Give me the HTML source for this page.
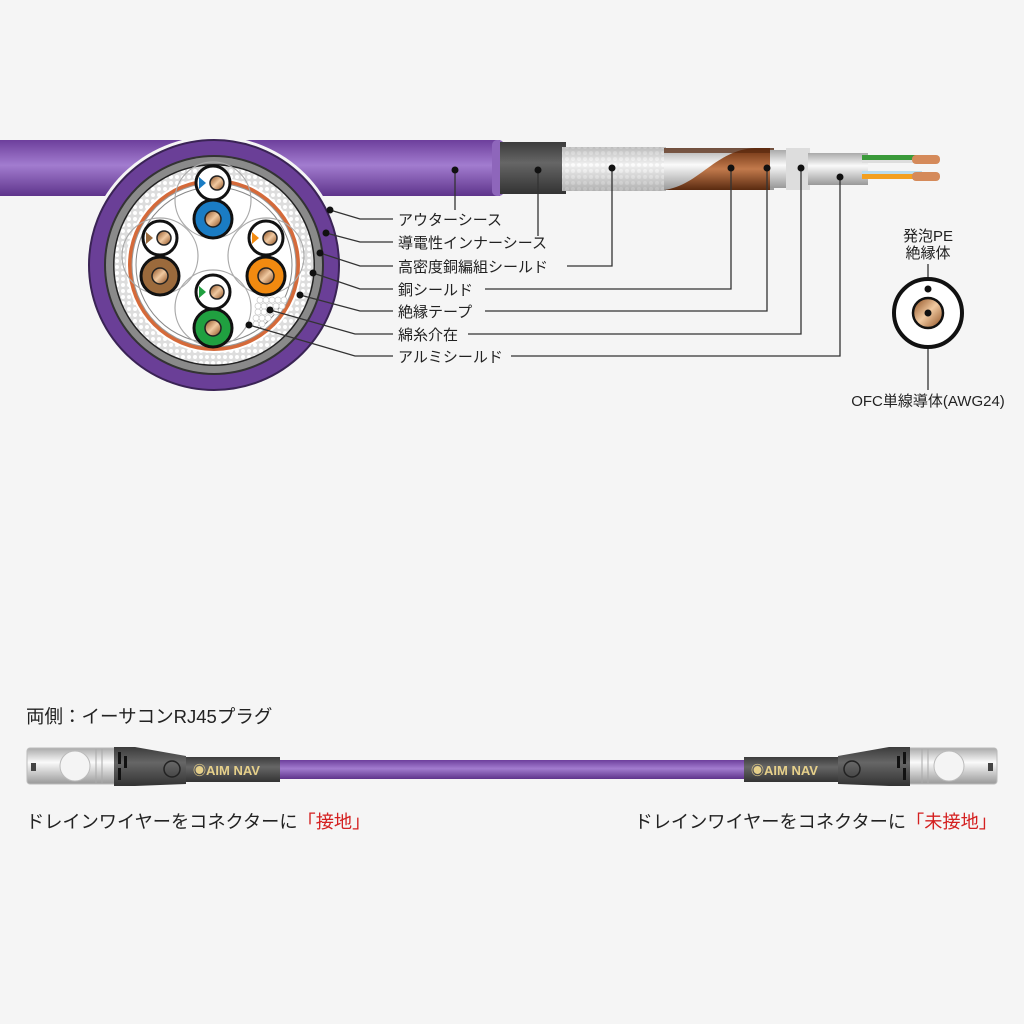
<!DOCTYPE html>
<html><head><meta charset="utf-8"><style>
html,body{margin:0;padding:0;background:#f5f5f5}
svg{display:block}
text{font-family:"Liberation Sans","Noto Sans CJK JP",sans-serif;fill:#222}
</style></head><body>
<svg width="1024" height="1024" viewBox="0 0 1024 1024" xmlns="http://www.w3.org/2000/svg">
<defs>
<linearGradient id="pur" x1="0" y1="0" x2="0" y2="1">
<stop offset="0" stop-color="#6d3f9c"/><stop offset="0.45" stop-color="#a27ccf"/><stop offset="1" stop-color="#5e348b"/></linearGradient>
<linearGradient id="dk" x1="0" y1="0" x2="0" y2="1">
<stop offset="0" stop-color="#3c3c3c"/><stop offset="0.4" stop-color="#666"/><stop offset="1" stop-color="#333"/></linearGradient>
<linearGradient id="sil" x1="0" y1="0" x2="0" y2="1">
<stop offset="0" stop-color="#aaa"/><stop offset="0.4" stop-color="#fafafa"/><stop offset="1" stop-color="#999"/></linearGradient>
<linearGradient id="cu" x1="0" y1="0" x2="1" y2="1">
<stop offset="0" stop-color="#8a4a1c"/><stop offset="0.5" stop-color="#f0c9a0"/><stop offset="1" stop-color="#8a4a1c"/></linearGradient>
<linearGradient id="cu2" x1="0" y1="0" x2="0" y2="1">
<stop offset="0" stop-color="#6b3010"/><stop offset="0.5" stop-color="#c27a4c"/><stop offset="1" stop-color="#5a2a10"/></linearGradient>
<pattern id="braid" width="6" height="6" patternUnits="userSpaceOnUse">
<rect width="6" height="6" fill="#ddd"/><circle cx="3" cy="3" r="2" fill="#fff"/></pattern>
</defs>

<rect x="0" y="140" width="500" height="56" fill="url(#pur)"/>
<rect x="492" y="140" width="12" height="56" rx="5" fill="#8e66bb"/>
<rect x="500" y="142" width="66" height="52" fill="url(#dk)"/>
<rect x="562" y="147" width="104" height="44" fill="url(#sil)"/>
<rect x="562" y="147" width="104" height="44" fill="url(#braid)" opacity="0.35"/>
<rect x="664" y="148" width="110" height="42" fill="url(#sil)"/>
<path d="M664 190 C700 185 715 150 755 148 L770 148 L770 190 Z" fill="url(#cu2)"/>
<rect x="664" y="148" width="110" height="5" fill="#5a2a10" opacity="0.7"/>
<rect x="770" y="150" width="36" height="38" fill="url(#sil)"/>
<rect x="786" y="148" width="24" height="42" fill="#ddd"/>
<rect x="808" y="153" width="60" height="32" fill="url(#sil)"/>
<rect x="862" y="155" width="60" height="5" fill="#3a9a3a"/>
<rect x="862" y="160" width="60" height="3" fill="#ddd"/>
<rect x="862" y="171" width="60" height="3" fill="#bde"/>
<rect x="862" y="174" width="60" height="5" fill="#f3a020"/>
<rect x="912" y="155" width="28" height="9" rx="4" fill="#d58a5a"/>
<rect x="912" y="172" width="28" height="9" rx="4" fill="#d58a5a"/>

<g>
<circle cx="214" cy="265" r="129" fill="#f5f5f5"/>
<circle cx="214" cy="265" r="125" fill="#6a3f97" stroke="#3a2355" stroke-width="2"/>
<circle cx="214" cy="265" r="110" fill="#333"/>
<circle cx="214" cy="265" r="108" fill="#8a8a8a"/>
<circle cx="214" cy="265" r="101" fill="#222"/>
<circle cx="214" cy="265" r="99.5" fill="url(#braid)"/>
<circle cx="214" cy="265" r="88" fill="#fff"/>
<circle cx="214" cy="265" r="86" fill="#d56a3a"/>
<circle cx="214" cy="265" r="82" fill="#fff" stroke="#999" stroke-width="1"/>
<circle cx="214" cy="265" r="78" fill="#fff" stroke="#888" stroke-width="1"/>
<g fill="none" stroke="#aaa" stroke-width="1.2">
<circle cx="213" cy="200" r="38"/><circle cx="160" cy="256" r="38"/><circle cx="266" cy="256" r="38"/><circle cx="213" cy="308" r="38"/>
</g>
<g fill="#fff" stroke="#ccc" stroke-width="0.8">
<circle cx="260" cy="300" r="3"/><circle cx="266" cy="300" r="3"/><circle cx="272" cy="300" r="3"/><circle cx="278" cy="300" r="3"/><circle cx="284" cy="300" r="3"/>
<circle cx="258" cy="306" r="3"/><circle cx="264" cy="306" r="3"/><circle cx="270" cy="306" r="3"/><circle cx="276" cy="306" r="3"/><circle cx="282" cy="306" r="3"/>
<circle cx="258" cy="312" r="3"/><circle cx="264" cy="312" r="3"/><circle cx="270" cy="312" r="3"/><circle cx="276" cy="312" r="3"/>
<circle cx="256" cy="318" r="3"/><circle cx="262" cy="318" r="3"/><circle cx="268" cy="318" r="3"/><circle cx="256" cy="324" r="3"/><circle cx="262" cy="324" r="3"/>
</g>
<g stroke="#111" stroke-width="3">
<circle cx="213" cy="183" r="17" fill="#fff"/><circle cx="213" cy="219" r="19" fill="#1a7cc4"/>
<circle cx="160" cy="238" r="17" fill="#fff"/><circle cx="160" cy="276" r="19" fill="#9b6a3c"/>
<circle cx="266" cy="238" r="17" fill="#fff"/><circle cx="266" cy="276" r="19" fill="#f28a10"/>
<circle cx="213" cy="292" r="17" fill="#fff"/><circle cx="213" cy="328" r="19" fill="#20a040"/>
</g>
<path d="M199 177 L206 183 L199 189 Z" fill="#1a7cc4"/>
<path d="M146 232 L153 238 L146 244 Z" fill="#9b6a3c"/>
<path d="M252 232 L259 238 L252 244 Z" fill="#f28a10"/>
<path d="M199 286 L206 292 L199 298 Z" fill="#20a040"/>
<g fill="url(#cu)" stroke="#222" stroke-width="1.5">
<circle cx="217" cy="183" r="7"/><circle cx="213" cy="219" r="8"/>
<circle cx="164" cy="238" r="7"/><circle cx="160" cy="276" r="8"/>
<circle cx="270" cy="238" r="7"/><circle cx="266" cy="276" r="8"/>
<circle cx="217" cy="292" r="7"/><circle cx="213" cy="328" r="8"/>
</g>
</g>

<g stroke="#333" stroke-width="1.3" fill="none">
<polyline points="330,210 360,219 393,219"/>
<polyline points="326,233 360,242 393,242"/>
<polyline points="320,253 360,266 393,266"/>
<polyline points="313,273 360,289 393,289"/>
<polyline points="300,295 360,311 393,311"/>
<polyline points="270,310 355,334 393,334"/>
<polyline points="249,325 355,356 393,356"/>
<polyline points="455,170 455,210"/>
<polyline points="538,170 538,236"/>
<polyline points="612,168 612,266 567,266"/>
<polyline points="731,168 731,289 485,289"/>
<polyline points="767,168 767,311 485,311"/>
<polyline points="801,168 801,334 468,334"/>
<polyline points="840,177 840,356 511,356"/>
<line x1="928" y1="264" x2="928" y2="313"/>
<line x1="928" y1="313" x2="928" y2="390"/>
</g>
<g fill="#111">
<circle cx="330" cy="210" r="3.5"/><circle cx="326" cy="233" r="3.5"/><circle cx="320" cy="253" r="3.5"/><circle cx="313" cy="273" r="3.5"/><circle cx="300" cy="295" r="3.5"/><circle cx="270" cy="310" r="3.5"/><circle cx="249" cy="325" r="3.5"/>
<circle cx="455" cy="170" r="3.5"/><circle cx="538" cy="170" r="3.5"/><circle cx="612" cy="168" r="3.5"/><circle cx="731" cy="168" r="3.5"/><circle cx="767" cy="168" r="3.5"/><circle cx="801" cy="168" r="3.5"/><circle cx="840" cy="177" r="3.5"/>
</g>
<g font-size="15">
<text x="398" y="225">アウターシース</text>
<text x="398" y="248">導電性インナーシース</text>
<text x="398" y="272">高密度銅編組シールド</text>
<text x="398" y="295">銅シールド</text>
<text x="398" y="317">絶縁テープ</text>
<text x="398" y="340">綿糸介在</text>
<text x="398" y="362">アルミシールド</text>
</g>

<circle cx="928" cy="313" r="34" fill="#fff" stroke="#111" stroke-width="4"/>
<circle cx="928" cy="313" r="15" fill="url(#cu)" stroke="#111" stroke-width="2.5"/>
<circle cx="928" cy="289" r="3.5" fill="#111"/><circle cx="928" cy="313" r="3.5" fill="#111"/>
<text x="928" y="241" font-size="15" text-anchor="middle">発泡PE</text>
<text x="928" y="258" font-size="15" text-anchor="middle">絶縁体</text>
<text x="928" y="406" font-size="15" text-anchor="middle">OFC単線導体(AWG24)</text>

<text x="26" y="723" font-size="18.5">両側：イーサコンRJ45プラグ</text>
<rect x="270" y="760" width="480" height="19" fill="url(#pur)"/>
<g>
<rect x="27" y="748" width="95" height="36" rx="3" fill="url(#sil)" stroke="#bbb"/>
<rect x="31" y="763" width="5" height="8" fill="#444"/>
<ellipse cx="75" cy="766" rx="15" ry="15" fill="#f4f4f4" stroke="#bbb"/>
<line x1="96" y1="749" x2="96" y2="783" stroke="#aaa"/><line x1="102" y1="749" x2="102" y2="783" stroke="#aaa"/>
<path d="M114 747 L135 747 L186 756 L186 784 L135 786 L114 786 Z" fill="url(#dk)"/>
<rect x="118" y="752" width="3" height="12" fill="#111"/><rect x="124" y="756" width="3" height="12" fill="#111"/><rect x="118" y="768" width="3" height="12" fill="#111"/>
<circle cx="172" cy="769" r="8" fill="none" stroke="#222" stroke-width="1.5"/>
<rect x="186" y="757" width="94" height="25" fill="url(#dk)"/>
<text x="193" y="775" font-size="13" font-weight="bold" style="fill:#e6d08a">◉AIM NAV</text>
</g>
<g transform="translate(1024,0) scale(-1,1)">
<rect x="27" y="748" width="95" height="36" rx="3" fill="url(#sil)" stroke="#bbb"/>
<rect x="31" y="763" width="5" height="8" fill="#444"/>
<ellipse cx="75" cy="766" rx="15" ry="15" fill="#f4f4f4" stroke="#bbb"/>
<line x1="96" y1="749" x2="96" y2="783" stroke="#aaa"/><line x1="102" y1="749" x2="102" y2="783" stroke="#aaa"/>
<path d="M114 747 L135 747 L186 756 L186 784 L135 786 L114 786 Z" fill="url(#dk)"/>
<rect x="118" y="752" width="3" height="12" fill="#111"/><rect x="124" y="756" width="3" height="12" fill="#111"/><rect x="118" y="768" width="3" height="12" fill="#111"/>
<circle cx="172" cy="769" r="8" fill="none" stroke="#222" stroke-width="1.5"/>
<rect x="186" y="757" width="94" height="25" fill="url(#dk)"/>
</g>
<text x="751" y="775" font-size="13" font-weight="bold" style="fill:#e6d08a">◉AIM NAV</text>
<text x="26" y="828" font-size="18.2">ドレインワイヤーをコネクターに<tspan style="fill:#d42020">「接地」</tspan></text>
<text x="997" y="828" font-size="18.2" text-anchor="end">ドレインワイヤーをコネクターに<tspan style="fill:#d42020">「未接地」</tspan></text>
</svg>
</body></html>
